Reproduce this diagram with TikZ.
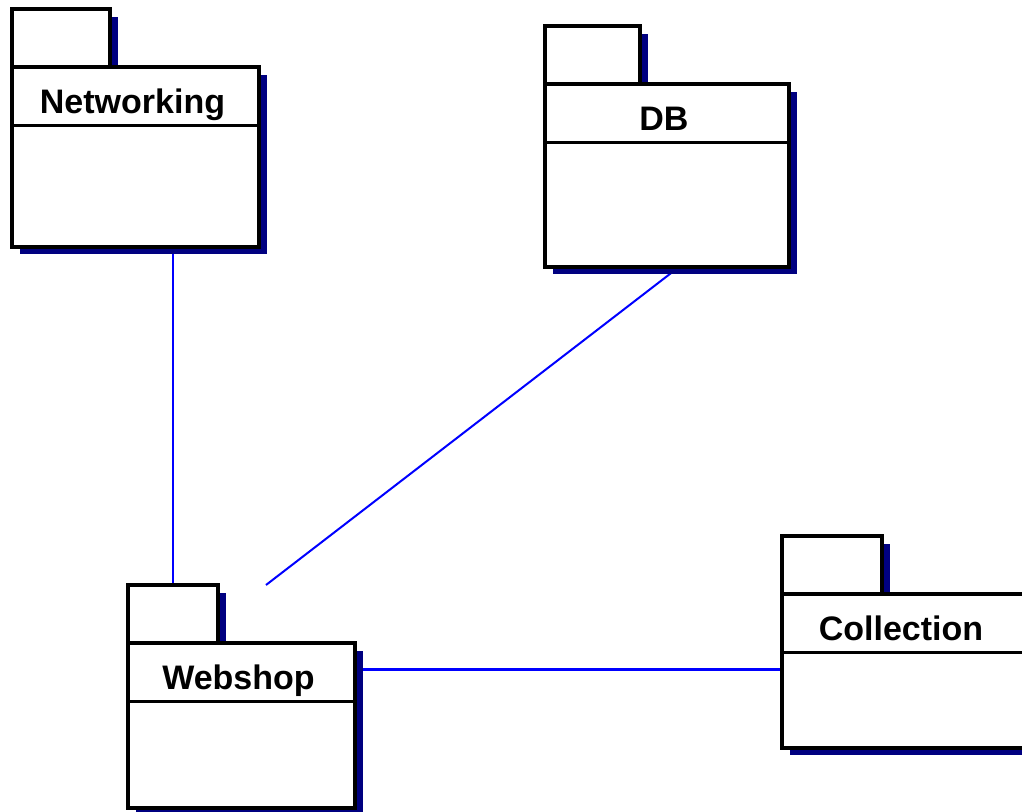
\documentclass[tikz,border=0pt]{standalone}
\usepackage{fontspec}
\setmainfont{Liberation Sans}
\usetikzlibrary{calc,backgrounds}

\definecolor{ombrebleu}{HTML}{000080}
\definecolor{lien}{HTML}{0000FF}

\tikzset{
  contour/.style={draw=black, fill=white, line width=2.4pt},
  ombre/.style={fill=ombrebleu},
  liaison/.style={draw=lien, line width=2pt},
  etiquette/.style={font=\bfseries\fontsize{25.5}{30}\selectfont, inner sep=0pt},
}

% #1 nom, #2-#3 coin haut gauche du corps, #4 largeur, #5 hauteur, #6 largeur de l'onglet, #7 titre
\newcommand{\paquetage}[7]{%
  \node[inner sep=0pt, minimum width=#4*0.75pt, minimum height=#5*0.75pt,
        anchor=north west] (#1) at (#2,#3) {};
  \coordinate (#1-onglet) at ($(#1.north west)+(#6/2,-58)$);
  % Ombres
  \fill[ombre] (#2+8,#3-50) rectangle (#2+#6+7.5,#3);
  \fill[ombre] (#2+8,#3+8) rectangle (#2+#4+7.5,#3+#5+7.5);
  % Onglet et corps
  \draw[contour] (#2,#3) rectangle ++(#6,-58);
  \draw[contour] (#2,#3) rectangle ++(#4,#5);
  \draw[contour] (#2,#3+58.5) -- ++(#4,0);
  \node[etiquette, anchor=base] (#1-titre) at (#2+#4/2-3,#3+47) {#7};
}

\begin{document}
\begin{tikzpicture}[x=0.75pt, y=-0.75pt]
  \useasboundingbox (0,0) rectangle (1022,812);

  % Paquetages
  \paquetage{networking}{12}{67}{247}{180}{98}{Networking}
  \paquetage{db}{545}{84}{244}{183}{95}{DB}
  \paquetage{webshop}{128}{643}{227}{165}{90}{Webshop}
  \paquetage{collection}{782}{594}{244}{154}{100}{Collection}

  \coordinate (fin-db) at (266,585);

  % Liens
  \begin{pgfonlayer}{background}
    \draw[liaison] (webshop-onglet) -- (webshop-onglet |- networking.south);
    \draw[liaison, line width=1.5pt] ($(db.south)+(11,0)$) -- (fin-db);
    \draw[liaison] ([yshift=1.5pt]webshop.east |- collection.west) -- ([yshift=1.5pt]collection.west);
  \end{pgfonlayer}
\end{tikzpicture}
\end{document}
